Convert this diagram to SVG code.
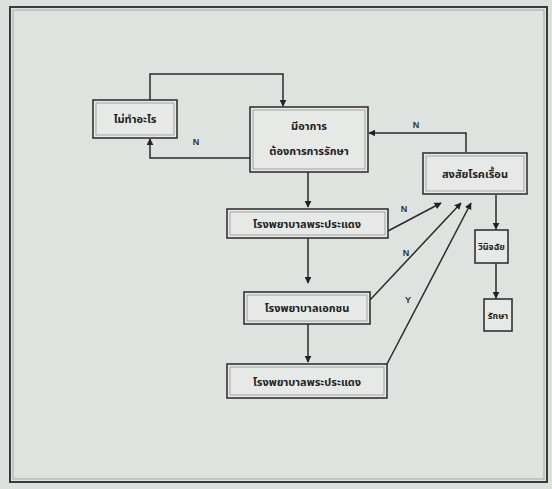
<svg xmlns="http://www.w3.org/2000/svg" width="552" height="489" viewBox="0 0 552 489">
<defs>
<marker id="ah" viewBox="0 0 10 10" refX="9" refY="5" markerWidth="7" markerHeight="7" orient="auto-start-reverse" markerUnits="userSpaceOnUse">
<path d="M0,0 L10,5 L0,10 z" fill="#222"/>
</marker>
<style>
.box{fill:#e6e9e6;stroke:#333;stroke-width:1.6}
.inner{fill:none;stroke:#888;stroke-width:0.7}
.t{font-family:"Noto Sans Thai","Noto Sans","DejaVu Sans",sans-serif;font-size:11px;font-weight:bold;fill:#1e1e1e;text-anchor:middle}
.lbl{font-family:"Liberation Sans",Arial,sans-serif;font-size:9px;font-weight:bold;fill:#333;text-anchor:middle}
.c{fill:none;stroke:#2a2a2a;stroke-width:1.5;marker-end:url(#ah)}
</style>
</defs>
<rect x="0" y="0" width="552" height="489" fill="#dde1de"/>
<rect x="10" y="7" width="537" height="475" fill="#dfe3e0" stroke="#3a3a3a" stroke-width="2"/>
<rect x="13" y="10" width="531" height="469" fill="none" stroke="#999" stroke-width="0.8"/>

<g id="connectors">
<path class="c" d="M150,100 L150,74 L283,74 L283,106"/>
<path class="c" d="M250,158 L150,158 L150,139"/>
<path class="c" d="M466,152 L466,133 L369,133"/>
<path class="c" d="M308,172 L308,207"/>
<path class="c" d="M308,238 L308,283"/>
<path class="c" d="M308,324 L308,362"/>
<path class="c" d="M388,231 L441,203"/>
<path class="c" d="M370,300 L461,203"/>
<path class="c" d="M387,364 L471,203"/>
<path class="c" d="M496,195 L496,229"/>
<path class="c" d="M496,263 L496,298"/>
<text class="lbl" x="196" y="145">N</text>
<text class="lbl" x="416" y="128">N</text>
<text class="lbl" x="404" y="212">N</text>
<text class="lbl" x="406" y="256">N</text>
<text class="lbl" x="408" y="303">Y</text>
</g>

<g id="node-nothing">
<rect class="box" x="93" y="100" width="84" height="38"/>
<rect class="inner" x="96" y="103" width="78" height="32"/>
<text class="t" x="135" y="123">ไม่ทำอะไร</text>
</g>

<g id="node-symptom">
<rect class="box" x="250" y="107" width="118" height="65"/>
<rect class="inner" x="253" y="110" width="112" height="59"/>
<text class="t" x="309" y="130">มีอาการ</text>
<text class="t" x="309" y="155">ต้องการการรักษา</text>
</g>

<g id="node-suspect">
<rect class="box" x="423" y="153" width="104" height="41"/>
<rect class="inner" x="426" y="156" width="98" height="35"/>
<text class="t" x="475" y="178">สงสัยโรคเรื้อน</text>
</g>

<g id="node-hosp1">
<rect class="box" x="227" y="209" width="161" height="29"/>
<rect class="inner" x="230" y="212" width="155" height="23"/>
<text class="t" x="307" y="228">โรงพยาบาลพระประแดง</text>
</g>

<g id="node-hosp2">
<rect class="box" x="244" y="292" width="126" height="32"/>
<rect class="inner" x="247" y="295" width="120" height="26"/>
<text class="t" x="307" y="312">โรงพยาบาลเอกชน</text>
</g>

<g id="node-hosp3">
<rect class="box" x="227" y="364" width="160" height="34"/>
<rect class="inner" x="230" y="367" width="154" height="28"/>
<text class="t" x="307" y="386">โรงพยาบาลพระประแดง</text>
</g>

<g id="node-diagnose">
<rect class="box" x="475" y="230" width="33" height="33"/>
<text class="t" x="491.5" y="250" style="font-size:9px">วินิจฉัย</text>
</g>

<g id="node-treat">
<rect class="box" x="484" y="299" width="28" height="32"/>
<text class="t" x="498" y="319" style="font-size:9px">รักษา</text>
</g>
</svg>
